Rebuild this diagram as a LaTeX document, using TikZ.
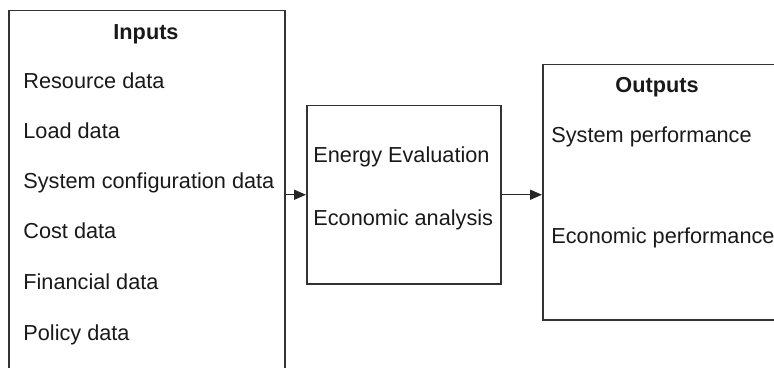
\documentclass[tikz,border=0pt]{standalone}
\usepackage{fontspec}
\setmainfont{Liberation Sans}
\usetikzlibrary{arrows.meta}

\begin{document}
\begin{tikzpicture}[x=0.5pt,y=-0.5pt,
  box/.style={draw=black!80,line width=0.75pt,inner sep=0pt,anchor=north west},
  label/.style={inner sep=0pt,anchor=base west,text=black!90,font=\fontsize{10.85}{13}\selectfont},
  heading/.style={inner sep=0pt,anchor=base,text=black!90,font=\fontsize{10.85}{13}\selectfont\bfseries},
  arr/.style={draw=black!85,line width=0.75pt,-{Triangle[length=6pt,width=5pt]}}]
  \useasboundingbox (0,0) rectangle (774,368);
  \clip (0,0) rectangle (774,368);

  % the three blocks
  \node[box,minimum width=138pt,minimum height=200pt] (inputs) at (8,10) {};
  \node[box,minimum width=97pt,minimum height=89pt] (mid) at (306,105) {};
  \node[box,minimum width=135pt,minimum height=127.5pt] (outputs) at (542,64) {};

  % inputs
  \node[heading] (inhead) at (146,40) {Inputs};
  \node[label] (in1) at (23,89) {Resource data};
  \node[label] (in2) at (23,139) {Load data};
  \node[label] (in3) at (23,189) {System configuration data};
  \node[label] (in4) at (23,239) {Cost data};
  \node[label] (in5) at (23,289) {Financial data};
  \node[label] (in6) at (23,340) {Policy data};

  % processing
  \node[label] (m1) at (313,163) {Energy Evaluation};
  \node[label] (m2) at (313,226) {Economic analysis};

  % outputs
  \node[heading] (outhead) at (657,93) {Outputs};
  \node[label] (o1) at (551,143) {System performance};
  \node[label] (o2) at (551,243) {Economic performance};

  % flow
  \draw[arr] (mid.west -| inputs.east) -- (mid.west);
  \draw[arr] (mid.east) -- (mid.east -| outputs.west);
\end{tikzpicture}
\end{document}
